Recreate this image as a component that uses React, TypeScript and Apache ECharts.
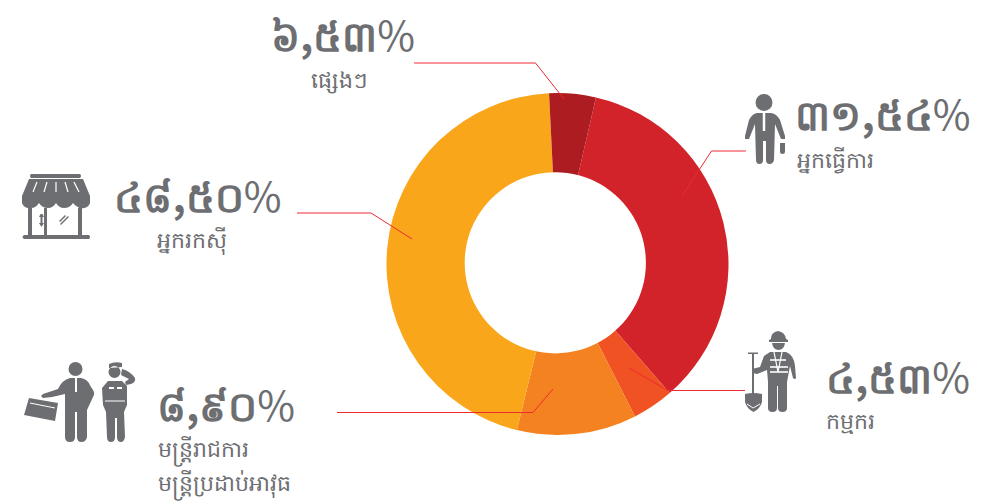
import React, { useEffect, useRef } from "react";
import * as echarts from "echarts";

const categories = ["អ្នកធ្វើការ", "កម្មករ", "មន្ត្រីរាជការ\nមន្ត្រីប្រដាប់អាវុធ", "អ្នករកស៊ី", "ផ្សេងៗ"];
const percentDigits = ["៣១,៥៤", "៤,៥៣", "៨,៩០", "៤៨,៥០", "៦,៥៣"];
// slice sizes as drawn in the picture (they differ from the printed labels)
const sliceValues = [35.0, 3.9, 11.3, 45.4, 4.4];
const sliceColors = ["#d2232a", "#f15223", "#f58220", "#faa61a", "#ad1c20"];

const circle = (cx: number, cy: number, r: number) =>
  `M${cx - r} ${cy}a${r} ${r} 0 1 0 ${2 * r} 0a${r} ${r} 0 1 0 ${-2 * r} 0Z`;

const ICON_GRAY = "#6d6e71";
const paths: Record<string, string> = {
  iconWorkerMan:
    circle(764, 102.5, 8.5) +
    "M757 113L771 113Q777 114 780 120L785 136L785 139L781 139L775 124L774 160Q773 164 769.5 164Q766 164 766 160L766 141L763 141L763 160Q763 164 759.5 164Q756 164 756 160L755 124L749 139L745 139L745 136L749 120Q752 114 757 113Z" +
    "M780 143L785 143L785 152Q785 154 782.5 154Q780 154 780 152Z",
  iconStore:
    "M31 174L80 174Q82 176 80 178L31 178Q29 176 31 174Z" +
    "M29 179L83 179L90 196L90 199L22 199L22 196Z" +
    "M22 199L90 199L90 203Q88 209 81 208Q76 207 73 203Q70 208 64 208Q59 208 56 203Q53 208 48 208Q42 208 39 203Q36 208 31 208Q24 209 22 203Z" +
    "M28 205L32 208L32 235L44 235L44 208L47 208L47 235L78 235L78 208L82 205L82 235L89 235Q91 237 89 239L24 239Q21 237 24 235L28 235Z" +
    "M40.5 214L42.5 214L44 217L42.5 217L42.5 223L44 223L41.5 227L39 223L40.5 223L40.5 217L39 217Z" +
    "M59 221L65 215L66 216L60 222ZM60 224L68 216L69 217L61 225Z",
  iconOfficer:
    circle(75.5, 369, 7) +
    "M70 378L81 378Q88 379 91 387Q96 393 93 397L87 410L87 437Q86 442 81.5 442Q77 442 77 437L77 412L75 412L75 437Q75 442 70 442Q65 442 65 437L65 394L52 397L43 398L41 396L43 394L58 389Q62 380 70 378Z" +
    "M29 398L58 403L55 421L24 415Z",
  iconSoldier:
    "M109 364Q115 361 122 363L122 367L109 368Z" +
    circle(114.5, 372, 6) +
    "M122 369Q130 371 135 378Q136 382 131 384L126 385L125 382L129 379L121 375Z" +
    "M108 381L122 381L127 386L127 405L124 412L125 437Q124 442 121 442Q117 442 117 437L117 418L115 418L115 437Q115 442 111 442Q107 442 107 437L106 412L103 405L102 388Z",
  iconBuilder:
    "M771 339Q771 332 778 331Q785 332 786 339L788 340L788 342L769 342L769 340Z" +
    "M772 343L785 343Q784 350 778.5 350Q773 350 772 343Z" +
    "M770 352L786 352Q794 355 795 366L796 378Q795 380 793 378L790 366L787 382L787 408Q787 412 782.5 412Q778 412 778 408L778 386L777 386L777 408Q777 412 772.5 412Q768 412 768 408L768 382L767 370L757 374L753 373L752 369L760 367L764 356Z" +
    "M752 353L754 353L754 393L752 393ZM748 352.5L758 352.5L758 354L748 354Z" +
    "M745 394Q753 392 762 394L762 402Q760 409 753.5 412Q747 409 745 402Z",
};
Object.keys(paths).forEach((k) => {
  echarts.graphic.registerShape(k, echarts.graphic.extendPath(paths[k], {}));
});

const iconEls = Object.keys(paths).map((k) => ({ type: k, x: 0, y: 0, style: { fill: ICON_GRAY }, z: 10 }));
const whiteLine = (x1: number, y1: number, x2: number, y2: number, w = 1.2) => ({
  type: "line",
  shape: { x1, y1, x2, y2 },
  style: { stroke: "#fff", lineWidth: w },
  z: 11,
});
const iconDetails = [
  whiteLine(764, 113, 764, 131, 2.5),
  whiteLine(37, 182, 33, 192),
  whiteLine(47, 182, 44, 192),
  whiteLine(56, 182, 56, 192),
  whiteLine(65, 182, 68, 192),
  whiteLine(74, 182, 79, 192),
  whiteLine(76, 378, 76, 392, 2),
  whiteLine(30, 403, 55, 408, 1),
  whiteLine(770, 360, 786, 360, 1.6),
  whiteLine(770, 367, 788, 367, 1.6),
  whiteLine(770, 372, 788, 372, 1.6),
  whiteLine(774, 352, 778, 372, 1.2),
  whiteLine(782, 352, 778, 372, 1.2),
  whiteLine(109, 388, 114, 388, 2),
  whiteLine(117, 388, 122, 388, 2),
  whiteLine(105, 401, 125, 401, 1),
  whiteLine(747, 404, 753, 408, 1),
  whiteLine(760, 404, 753, 408, 1),
];

// leader lines
const leaderPoints: number[][][] = [
  [[746, 151], [711.5, 151], [682, 196]],
  [[745, 390.5], [668, 390.5], [629, 368]],
  [[337, 412.5], [533, 412.5], [553, 389]],
  [[297, 213], [371, 213], [412, 239]],
  [[414, 63], [535.5, 63], [564, 99]],
];
const leaderEls = leaderPoints.map((points) => ({
  type: "polyline",
  shape: { points },
  style: { stroke: "#ee2a33", lineWidth: 1, fill: "none" },
  z: 5,
}));

const GRAY = "#6d6e71";
const baseFont = "'Noto Sans CJK SC','DejaVu Sans',sans-serif";
const bigPos: number[][] = [[883, 112], [898, 375], [226, 403], [198, 194], [343, 33]];
const subPos: number[][] = [[797, 158], [826, 419], [158, 464], [157, 238], [339, 78]];
const subAlign = ["left", "left", "left", "left", "center"];

const texts = percentDigits.flatMap((t, i) => [
  {
    type: "text",
    x: bigPos[i][0],
    y: bigPos[i][1],
    z: 12,
    style: {
      text: `{d|${t}}{p|%}`,
      align: "center",
      verticalAlign: "middle",
      rich: {
        d: { fill: GRAY, fontFamily: baseFont, fontSize: 41, fontWeight: "bold", lineHeight: 36 },
        p: { fill: GRAY, fontFamily: baseFont, fontSize: 41, fontWeight: "normal", lineHeight: 36 },
      },
    },
  },
  {
    type: "text",
    x: subPos[i][0],
    y: subPos[i][1],
    z: 12,
    style: {
      text: categories[i],
      fill: GRAY,
      font: `22px ${baseFont}`,
      lineHeight: i === 2 ? 34 : 24,
      align: subAlign[i],
      verticalAlign: "middle",
    },
  },
]);

// the hole of the ring sits slightly off the ring's own centre in the reference
const holeEl = { type: "circle", shape: { cx: 555.3, cy: 262.8, r: 90.6 }, style: { fill: "#fff" }, z: 3 };

export default function App() {
  const ref = useRef<HTMLDivElement>(null);
  useEffect(() => {
    const chart = echarts.init(ref.current!, undefined, { renderer: "svg" });
    chart.setOption({
      animation: false,
      backgroundColor: "#fff",
      series: [
        {
          type: "pie",
          center: [557.5, 264],
          radius: [84, 171],
          startAngle: 77,
          clockwise: true,
          label: { show: false },
          labelLine: { show: false },
          itemStyle: { borderWidth: 0 },
          data: sliceValues.map((value, i) => ({
            name: categories[i],
            value,
            itemStyle: { color: sliceColors[i] },
          })),
        },
      ],
      graphic: { elements: [holeEl, ...leaderEls, ...iconEls, ...iconDetails, ...texts] },
    });
    return () => chart.dispose();
  }, []);
  return <div ref={ref} style={{ position: "absolute", left: 0, top: 0, width: 985, height: 503 }} />;
}
